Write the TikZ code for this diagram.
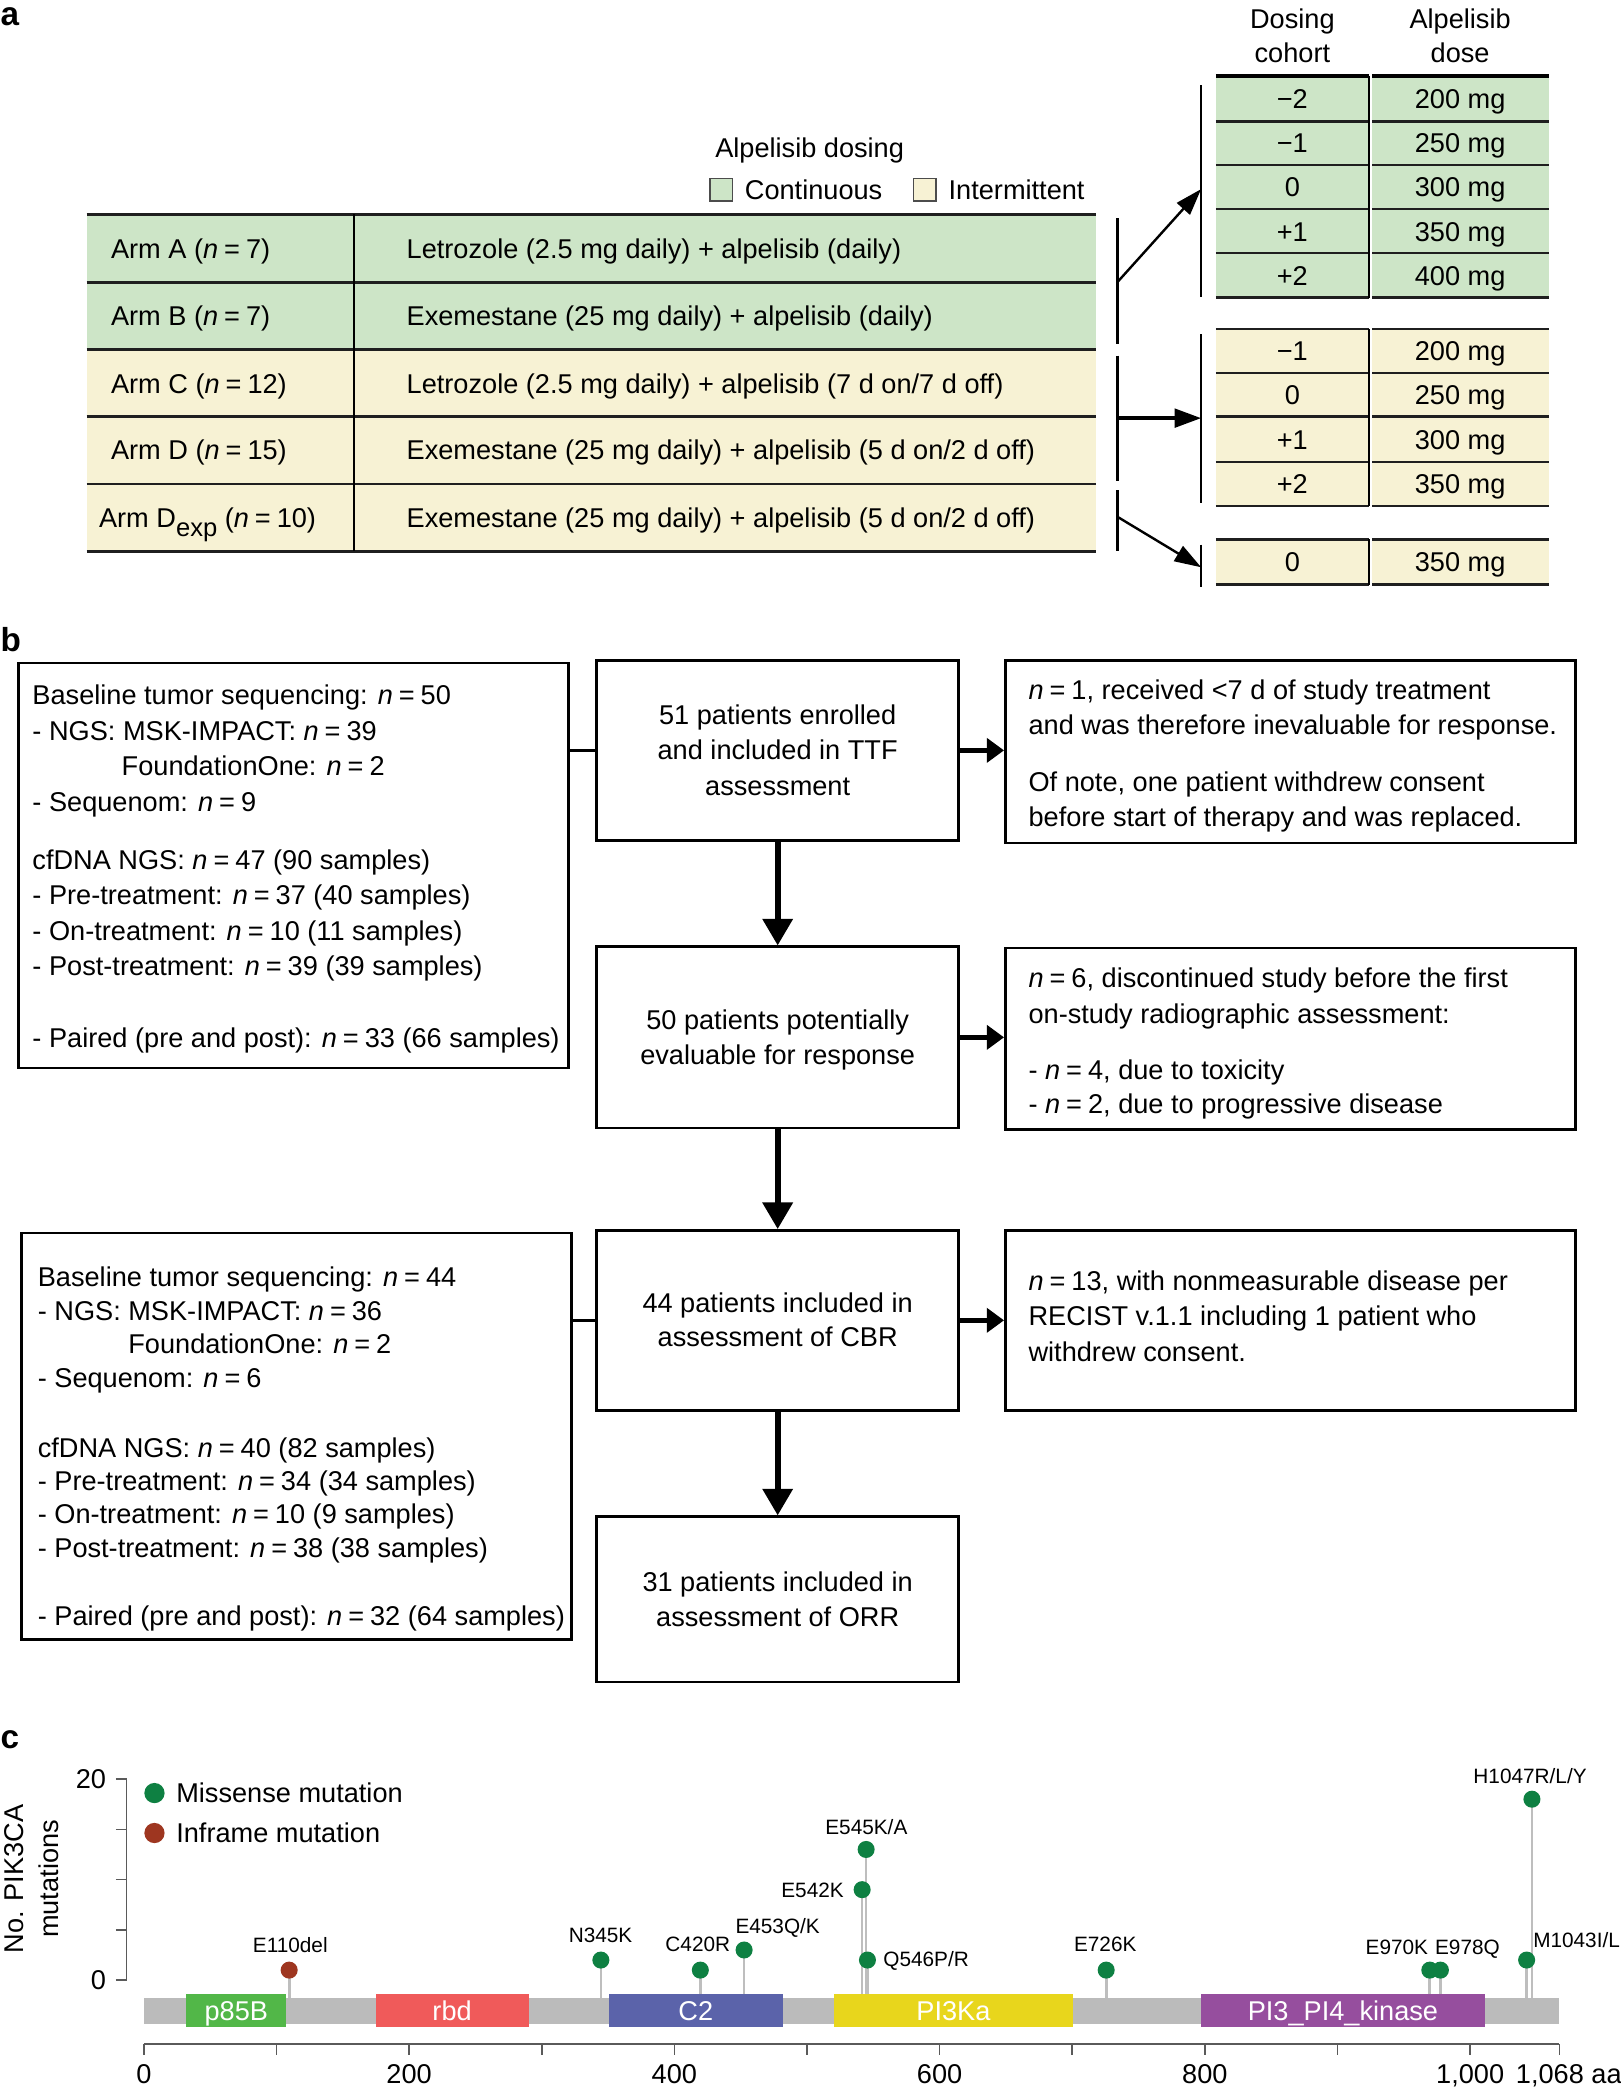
\documentclass[tikz,border=0pt]{standalone}
\usepackage{fontspec}
\setmainfont{Liberation Sans}
\usetikzlibrary{arrows.meta,fit}
\definecolor{cg}{RGB}{205,229,199}
\definecolor{cy}{RGB}{247,242,212}
\definecolor{lgr}{RGB}{14,128,66}
\definecolor{lrd}{RGB}{158,54,32}
\definecolor{barg}{RGB}{187,187,187}
\definecolor{stemg}{RGB}{190,190,190}
\definecolor{axg}{RGB}{90,90,90}
\definecolor{cpa}{RGB}{82,183,72}
\definecolor{cpb}{RGB}{240,90,90}
\definecolor{cpc}{RGB}{91,99,170}
\definecolor{cpd}{RGB}{232,214,28}
\definecolor{cpe}{RGB}{150,78,158}
\newcommand{\myn}{\textit{n}\hspace{0.22em}=\hspace{0.22em}}
\begin{document}
\begin{tikzpicture}[x=0.5pt,y=-0.5pt,
  txt/.style={font=\fontsize{10.2}{12}\selectfont, inner sep=0pt, text height=7.3pt, text depth=0pt},
  tl/.style={txt, anchor=west},
  sm/.style={font=\fontsize{7.8}{9}\selectfont, inner sep=0pt, text height=5.6pt, text depth=0pt},
  lab/.style={font=\fontsize{12.5}{14}\selectfont\bfseries, inner sep=0pt, anchor=base west},
  box/.style={draw, line width=1pt, inner sep=0pt},
  tline/.style={line width=1pt, draw=black!88},
  hline/.style={line width=1.8pt, draw=black},
  brk/.style={line width=1pt, draw=black},
  arrA/.style={line width=0.9pt, -{Triangle[length=10pt,width=6.5pt]}},
  arrAh/.style={line width=1.3pt, -{Triangle[length=10pt,width=7pt]}},
  arrV/.style={line width=2.2pt, -{Triangle[length=10pt,width=11pt]}},
  arrH/.style={line width=1.8pt, -{Triangle[length=6.5pt,width=9pt]}},
  cgA/.style={txt, fill=cg, minimum width=57.5pt, minimum height=16.9pt},
  cgB/.style={txt, fill=cg, minimum width=66.5pt, minimum height=16.9pt},
  cyA/.style={txt, fill=cy, minimum width=57.5pt, minimum height=16.9pt},
  cyB/.style={txt, fill=cy, minimum width=66.5pt, minimum height=16.9pt},
  dom/.style={txt, text=white, minimum height=12.25pt},
  stem/.style={line width=1pt, draw=stemg},
  axis/.style={line width=0.6pt, draw=axg}
]
\useasboundingbox (0,0) rectangle (1217,1568);
\fill[white] (0,0) rectangle (1217,1568);

% ---------------- panel letters
\node[lab] (pa) at (0,19) {a};
\node[lab] (pb) at (0,489) {b};
\node[lab] (pc) at (0,1313) {c};

% ---------------- panel a : legend
\node[txt] (legt) at (608,111) {Alpelisib dosing};
\node[draw=black!70, line width=0.6pt, fill=cg, minimum size=8.5pt, inner sep=0pt] (lgg) at (541.5,142.5) {};
\node[tl] (lgtc) at (559,142.5) {Continuous};
\node[draw=black!70, line width=0.6pt, fill=cy, minimum size=8.5pt, inner sep=0pt] (lgy) at (694.5,142.5) {};
\node[tl] (lgti) at (712,142.5) {Intermittent};

% ---------------- panel a : arms table
\fill[cg] (65,161) rectangle (823,262.5);
\fill[cy] (65,262.5) rectangle (823,414);
\foreach \yy in {161,212,262.5,313,363.5,414} \draw[tline] (65,\yy) -- (823,\yy);
\draw[line width=0.7pt] (266,161) -- (266,414);
\node[tl] (armA) at (83,187) {Arm A (\myn 7)};
\node[tl] (armB) at (83,237) {Arm B (\myn 7)};
\node[tl] (armC) at (83,288) {Arm C (\myn 12)};
\node[tl] (armD) at (83,338) {Arm D (\myn 15)};
\node[tl] (armE) at (74,389) {Arm D\raisebox{-0.32em}{\fontsize{9.6}{10}\selectfont exp} (\myn 10)};
\node[tl] (trA) at (305,187) {Letrozole (2.5 mg daily) + alpelisib (daily)};
\node[tl] (trB) at (305,237) {Exemestane (25 mg daily) + alpelisib (daily)};
\node[tl] (trC) at (305,288) {Letrozole (2.5 mg daily) + alpelisib (7 d on/7 d off)};
\node[tl] (trD) at (305,338) {Exemestane (25 mg daily) + alpelisib (5 d on/2 d off)};
\node[tl] (trE) at (305,389) {Exemestane (25 mg daily) + alpelisib (5 d on/2 d off)};

% ---------------- panel a : dose tables
\node[txt] (h1a) at (970.5,14) {Dosing};
\node[txt] (h1b) at (970.5,40) {cohort};
\node[txt] (h2a) at (1096.5,14) {Alpelisib};
\node[txt] (h2b) at (1096.5,40) {dose};

\node[cgA] (g1a) at (970.5,74) {−2};   \node[cgB] (g1b) at (1096.5,74) {200 mg};
\node[cgA] (g2a) at (970.5,107.5) {−1}; \node[cgB] (g2b) at (1096.5,107.5) {250 mg};
\node[cgA] (g3a) at (970.5,140.5) {0};  \node[cgB] (g3b) at (1096.5,140.5) {300 mg};
\node[cgA] (g4a) at (970.5,174) {+1};   \node[cgB] (g4b) at (1096.5,174) {350 mg};
\node[cgA] (g5a) at (970.5,207) {+2};   \node[cgB] (g5b) at (1096.5,207) {400 mg};
\draw[hline] (913,57) -- (1028,57);  \draw[hline] (1030.5,57) -- (1163,57);
\foreach \yy in {91,124,157,190,223.5} {\draw[tline] (913,\yy) -- (1028,\yy); \draw[tline] (1030.5,\yy) -- (1163,\yy);}
\draw[line width=0.9pt] (1028,57) -- (1028,223.5);

\node[cyA] (y1a) at (970.5,263.5) {−1}; \node[cyB] (y1b) at (1096.5,263.5) {200 mg};
\node[cyA] (y2a) at (970.5,296.5) {0};  \node[cyB] (y2b) at (1096.5,296.5) {250 mg};
\node[cyA] (y3a) at (970.5,330) {+1};   \node[cyB] (y3b) at (1096.5,330) {300 mg};
\node[cyA] (y4a) at (970.5,363.5) {+2}; \node[cyB] (y4b) at (1096.5,363.5) {350 mg};
\foreach \yy in {247,280,313,347,380} {\draw[tline] (913,\yy) -- (1028,\yy); \draw[tline] (1030.5,\yy) -- (1163,\yy);}
\draw[line width=0.9pt] (1028,247) -- (1028,380);

\node[cyA, minimum height=17pt] (z1a) at (970.5,422) {0}; \node[cyB, minimum height=17pt] (z1b) at (1096.5,422) {350 mg};
\foreach \yy in {405,439} {\draw[tline] (913,\yy) -- (1028,\yy); \draw[tline] (1030.5,\yy) -- (1163,\yy);}
\draw[line width=0.9pt] (1028,405) -- (1028,439);

% brackets and arrows
\draw[brk] (902,64) -- (902,223);
\draw[brk] (902,251) -- (902,378);
\draw[brk] (902,409) -- (902,441);
\draw[brk] (839,164) -- (839,258);
\draw[brk] (839,267) -- (839,361);
\draw[brk] (839,368) -- (839,414);
\coordinate (sA) at (839,212);
\coordinate (tA) at (902,142);
\coordinate (sC) at (839,314);
\coordinate (tC) at (902,314);
\coordinate (sE) at (839,388);
\coordinate (tE) at (902,426);
\draw[arrA] (sA) -- (tA);
\draw[arrAh] (sC) -- (tC);
\draw[arrA] (sE) -- (tE);

% ---------------- panel b
\node[box, fit={(14,498) (427,802)}] (L1) {};
\node[box, fit={(448,496) (720,631)}] (C1) {};
\node[box, fit={(755,496) (1183,633)}] (R1) {};
\node[box, fit={(448,711) (720,847)}] (C2) {};
\node[box, fit={(755,712) (1183,848)}] (R2) {};
\node[box, fit={(448,924) (720,1059)}] (C3) {};
\node[box, fit={(755,924) (1183,1059)}] (R3) {};
\node[box, fit={(16,926) (429,1231)}] (L2) {};
\node[box, fit={(448,1139) (720,1263)}] (C4) {};

\draw[line width=1pt] (C1.west -| L1.east) -- (C1.west);
\draw[line width=1pt] (C3.west -| L2.east) -- (C3.west);
\draw[arrH] (C1.east) -- (C1.east -| R1.west);
\draw[arrH] (C2.east) -- (C2.east -| R2.west);
\draw[arrH] (C3.east) -- (C3.east -| R3.west);
\draw[arrV] (C1.south) -- (C2.north);
\draw[arrV] (C2.south) -- (C3.north);
\draw[arrV] (C3.south) -- (C4.north);

\node[tl] (l1a) at (24,522) {Baseline tumor sequencing: \myn 50};
\node[tl] (l1b) at (24,549) {- NGS: MSK-IMPACT: \myn 39};
\node[tl] (l1c) at (91,575) {FoundationOne: \myn 2};
\node[tl] (l1d) at (24,602) {- Sequenom: \myn 9};
\node[tl] (l1e) at (24,646) {cfDNA NGS: \myn 47 (90 samples)};
\node[tl] (l1f) at (24,672) {- Pre-treatment: \myn 37 (40 samples)};
\node[tl] (l1g) at (24,699) {- On-treatment: \myn 10 (11 samples)};
\node[tl] (l1h) at (24,725) {- Post-treatment: \myn 39 (39 samples)};
\node[tl] (l1i) at (24,779) {- Paired (pre and post): \myn 33 (66 samples)};

\node[txt] (c1a) at (584,537) {51 patients enrolled};
\node[txt] (c1b) at (584,563) {and included in TTF};
\node[txt] (c1c) at (584,590) {assessment};

\node[tl] (r1a) at (772,518) {\myn 1, received <7 d of study treatment};
\node[tl] (r1b) at (772,544) {and was therefore inevaluable for response.};
\node[tl] (r1c) at (772,587) {Of note, one patient withdrew consent};
\node[tl] (r1d) at (772,613) {before start of therapy and was replaced.};

\node[txt] (c2a) at (584,766) {50 patients potentially};
\node[txt] (c2b) at (584,792) {evaluable for response};

\node[tl] (r2a) at (772,734) {\myn 6, discontinued study before the first};
\node[tl] (r2b) at (772,761) {on-study radiographic assessment:};
\node[tl] (r2c) at (772,803) {- \myn 4, due to toxicity};
\node[tl] (r2d) at (772,829) {- \myn 2, due to progressive disease};

\node[txt] (c3a) at (584,978) {44 patients included in};
\node[txt] (c3b) at (584,1004) {assessment of CBR};

\node[tl] (r3a) at (772,962) {\myn 13, with nonmeasurable disease per};
\node[tl] (r3b) at (772,988) {RECIST v.1.1 including 1 patient who};
\node[tl] (r3c) at (772,1015) {withdrew consent.};

\node[tl] (l2a) at (28,959) {Baseline tumor sequencing: \myn 44};
\node[tl] (l2b) at (28,984) {- NGS: MSK-IMPACT: \myn 36};
\node[tl] (l2c) at (96,1009) {FoundationOne: \myn 2};
\node[tl] (l2d) at (28,1035) {- Sequenom: \myn 6};
\node[tl] (l2e) at (28,1087) {cfDNA NGS: \myn 40 (82 samples)};
\node[tl] (l2f) at (28,1112) {- Pre-treatment: \myn 34 (34 samples)};
\node[tl] (l2g) at (28,1137) {- On-treatment: \myn 10 (9 samples)};
\node[tl] (l2h) at (28,1162) {- Post-treatment: \myn 38 (38 samples)};
\node[tl] (l2i) at (28,1213) {- Paired (pre and post): \myn 32 (64 samples)};

\node[txt] (c4a) at (584,1188) {31 patients included in};
\node[txt] (c4b) at (584,1214) {assessment of ORR};

% ---------------- panel c
% axes
\draw[axis] (95,1336) -- (95,1487);
\foreach \c in {0,5,10,15,20} \draw[axis] (87,{1487-7.55*\c}) -- (95,{1487-7.55*\c});
\node[txt, anchor=east] (yt20) at (80,1336) {20};
\node[txt, anchor=east] (yt0) at (80,1487) {0};
\node[txt, rotate=90] (yl1) at (10,1411) {No. PIK3CA};
\node[txt, rotate=90] (yl2) at (37,1411) {mutations};

\draw[axis] (108,1535) -- (1171,1535);
\foreach \a in {0,100,...,1000} \draw[axis] ({108+0.996*\a},1535) -- ({108+0.996*\a},1543);
\draw[axis] (1171,1535) -- (1171,1543);
\node[txt] (xt0) at (108,1557) {0};
\node[txt] (xt2) at (307.2,1557) {200};
\node[txt] (xt4) at (506.4,1557) {400};
\node[txt] (xt6) at (705.6,1557) {600};
\node[txt] (xt8) at (904.8,1557) {800};
\node[txt] (xt10) at (1104,1557) {1,000};
\node[tl] (xt11) at (1138,1557) {1,068 aa};

% legend
\fill[lgr] (116,1346.5) circle[radius=3.8pt];
\fill[lrd] (116,1376.5) circle[radius=3.8pt];
\node[tl] (lgm) at (132,1346.5) {Missense mutation};
\node[tl] (lgi) at (132,1376.5) {Inframe mutation};

% stems
\foreach \a/\c in {110/1,345/2,420/1,453/3,542/9,545/13,546/2,726/1,970/1,978/1,1043/2,1047/18}
  \draw[stem] ({107.6+0.996*\a},{1487-7.55*\c}) -- ({107.6+0.996*\a},1505);

% protein backbone and domains
\fill[barg] (108,1500.5) rectangle (1171,1520);
\node[dom, fill=cpa, minimum width=37.5pt] (dpa) at (177.5,1509.75) {p85B};
\node[dom, fill=cpb, minimum width=57.5pt] (dpb) at (339.5,1509.75) {rbd};
\node[dom, fill=cpc, minimum width=65.5pt] (dpc) at (522.5,1509.75) {C2};
\node[dom, fill=cpd, minimum width=90pt] (dpd) at (716,1509.75) {PI3Ka};
\node[dom, fill=cpe, minimum width=106.5pt] (dpe) at (1008.5,1509.75) {PI3\_PI4\_kinase};

% heads
\foreach \a/\c/\col in {110/1/lrd,345/2/lgr,420/1/lgr,453/3/lgr,542/9/lgr,545/13/lgr,546/2/lgr,726/1/lgr,970/1/lgr,978/1/lgr,1043/2/lgr,1047/18/lgr}
  \fill[\col] ({107.6+0.996*\a},{1487-7.55*\c}) circle[radius=3.2pt];

% mutation labels
\node[sm] (mE110) at (218,1461) {E110del};
\node[sm] (mN345) at (451,1453) {N345K};
\node[sm] (mC420) at (524,1460) {C420R};
\node[sm] (mE453) at (584,1446) {E453Q/K};
\node[sm, anchor=east] (mE542) at (634,1419) {E542K};
\node[sm] (mE545) at (650.6,1372) {E545K/A};
\node[sm, anchor=west] (mQ546) at (663,1471) {Q546P/R};
\node[sm] (mE726) at (830,1460) {E726K};
\node[sm] (mE970) at (1049,1462) {E970K};
\node[sm] (mE978) at (1102,1462) {E978Q};
\node[sm, anchor=west] (mM1043) at (1151,1457) {M1043I/L};
\node[sm] (mH1047) at (1149,1334) {H1047R/L/Y};
\end{tikzpicture}
\end{document}
